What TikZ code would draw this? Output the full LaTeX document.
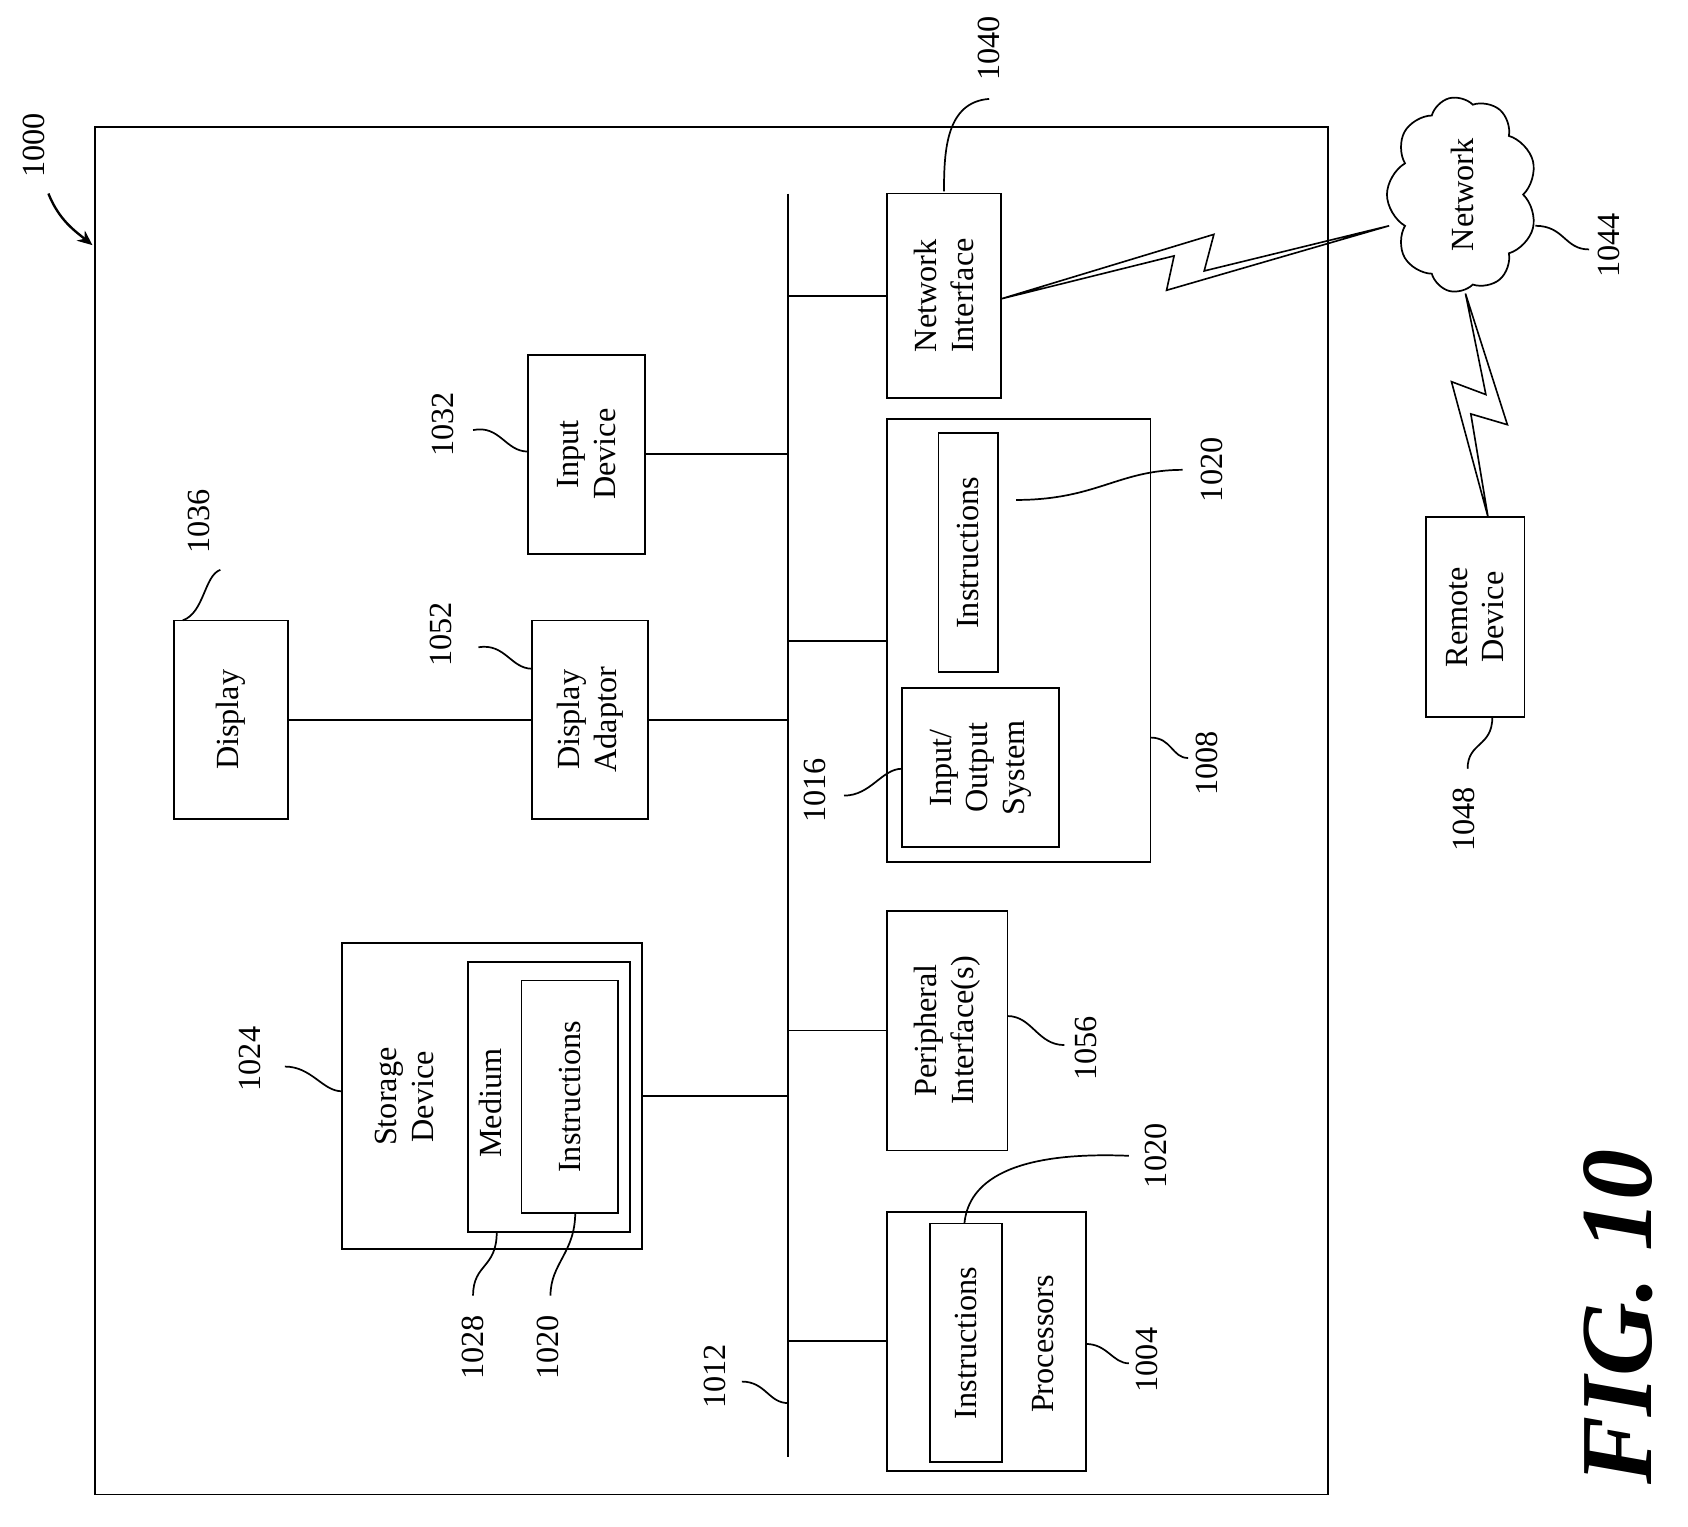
\documentclass[tikz,border=0pt]{standalone}
\usepackage{fontspec}
\setmainfont{Liberation Serif}
\usetikzlibrary{shapes.symbols,arrows.meta}
\begin{document}
\begin{tikzpicture}[x=1pt,y=-1pt,
  box/.style={draw,line width=1.6pt,rotate=90,align=center,inner sep=0pt,
     font=\fontsize{30}{34}\selectfont},
  txt/.style={rotate=90,align=center,inner sep=0pt,font=\fontsize{30}{34}\selectfont},
  lbl/.style={rotate=90,inner sep=0pt,font=\fontsize{30}{34}\selectfont},
  ln/.style={line width=1.6pt},
  lead/.style={line width=1.6pt}]
\useasboundingbox (0,0) rectangle (1570,1420);
\node[draw,line width=1.8pt,minimum width=1147,minimum height=1272,inner sep=0] (sys) at (661.5,754) {};
\coordinate (bt) at (733,180);
\coordinate (bb) at (733,1355);
\draw[ln] (bt) -- (bb);
% boxes
\node[box,minimum width=185,minimum height=106] (disp) at (215,669.5) {Display};
\node[box,minimum width=185,minimum height=108] (adapt) at (549,669.5) {Display\\Adaptor};
\node[box,minimum width=185,minimum height=109] (input) at (545.5,422.5) {Input\\Device};
\node[box,minimum width=285,minimum height=279] (stor) at (457.5,1019.5) {};
\node[txt] (stort) at (376,1020) {Storage\\Device};
\node[box,minimum width=251,minimum height=151] (med) at (510.5,1020.5) {};
\node[txt] (medt) at (456,1026) {Medium};
\node[box,minimum width=216,minimum height=90] (sinst) at (530,1020) {Instructions};
\node[box,minimum width=223,minimum height=112] (peri) at (881,958.5) {Peripheral\\Interface(s)};
\node[box,minimum width=241,minimum height=185] (proc) at (917.5,1247.5) {};
\node[box,minimum width=222,minimum height=67] (pinst) at (898.5,1249) {Instructions};
\node[txt] (proct) at (970,1250) {Processors};
\node[box,minimum width=190,minimum height=106] (ni) at (878,275) {Network\\Interface};
\node[box,minimum width=412,minimum height=245] (mem) at (947.5,596) {};
\node[box,minimum width=222,minimum height=55] (minst) at (900.5,514) {Instructions};
\node[box,minimum width=148,minimum height=146] (io) at (912,714) {Input/\\Output\\System};
\node[box,minimum width=186,minimum height=92] (rem) at (1372,574) {Remote\\Device};
\node[cloud,draw,line width=1.6pt,cloud puffs=9,cloud puff arc=120,aspect=1.3,
  minimum width=182,minimum height=140,rotate=90,inner sep=0pt,
  font=\fontsize{30}{34}\selectfont] (net) at (1360,181) {Network};
% connectors
\draw[ln] (disp.south) -- (disp.south -| adapt.north);
\draw[ln] (adapt.south) -- (adapt.south -| bt);
\draw[ln] (input.south) -- (input.south -| bt);
\draw[ln] (stor.south) -- (stor.south -| bt);
\draw[ln] (ni.north) -- (ni.north -| bt);
\draw[ln] (mem.north) -- (mem.north -| bt);
\draw[ln] (peri.north) -- (peri.north -| bt);
\draw[ln] (proc.north) -- (proc.north -| bt);
% lightning bolts
\coordinate (la) at (931,278);
\coordinate (lb) at (1292,210);
\draw[line width=1.5pt,line join=miter] (la) -- (1092,238) -- (1085,270) -- (lb) -- (1120,252) -- (1129,218) -- cycle;
\coordinate (lc) at (1363,273);
\coordinate (ld) at (1384,481);
\draw[line width=1.5pt,line join=miter] (lc) -- (1382,367) -- (1350,355) -- (ld) -- (1368,385) -- (1402,395) -- cycle;
% labels
\node[lbl] (l1000) at (32,135) {1000};
\draw[line width=2.2pt,-{Stealth[length=14pt,width=12pt]}] (45,180) .. controls (55,205) and (70,215) .. (86,228);
\node[lbl] (l1040) at (920,45) {1040};
\draw[lead] (920,92) .. controls (880,95) and (878,140) .. (878,178);
\node[lbl] (l1044) at (1496,228) {1044};
\draw[lead] (1428,210) .. controls (1455,210) and (1455,232) .. (1478,232);
\node[lbl] (l1032) at (412,395) {1032};
\draw[lead] (440,400) .. controls (465,395) and (470,420) .. (491,420);
\node[lbl] (l1036) at (185,485) {1036};
\draw[lead] (205,530) .. controls (190,535) and (190,570) .. (170,577);
\node[lbl] (l1052) at (410,590) {1052};
\draw[lead] (445,602) .. controls (470,598) and (475,622) .. (495,622);
\node[lbl] (l1020a) at (1127,437) {1020};
\draw[lead] (1100,437) .. controls (1040,437) and (1020,465) .. (945,465);
\node[lbl] (l1008) at (1123,710) {1008};
\draw[lead] (1070,686) .. controls (1090,686) and (1090,705) .. (1105,705);
\node[lbl] (l1016) at (758,735) {1016};
\draw[lead] (785,740) .. controls (810,740) and (820,715) .. (839,715);
\node[lbl] (l1024) at (232,985) {1024};
\draw[lead] (265,992) .. controls (290,992) and (300,1015) .. (318,1015);
\node[lbl] (l1056) at (1010,975) {1056};
\draw[lead] (937,945) .. controls (960,945) and (965,972) .. (990,972);
\node[lbl] (l1028) at (440,1253) {1028};
\draw[lead] (462,1146) .. controls (462,1180) and (440,1175) .. (440,1205);
\node[lbl] (l1020b) at (510,1253) {1020};
\draw[lead] (535,1128) .. controls (535,1165) and (512,1175) .. (512,1205);
\node[lbl] (l1012) at (665,1280) {1012};
\draw[lead] (690,1285) .. controls (712,1285) and (715,1305) .. (733,1305);
\node[lbl] (l1020c) at (1075,1075) {1020};
\draw[lead] (1050,1075) .. controls (930,1070) and (900,1105) .. (897,1138);
\node[lbl] (l1004) at (1067,1265) {1004};
\draw[lead] (1010,1250) .. controls (1030,1250) and (1035,1268) .. (1050,1268);
\node[lbl] (l1048) at (1362,762) {1048};
\draw[lead] (1388,667) .. controls (1388,695) and (1365,690) .. (1365,715);
\node[rotate=90,inner sep=0pt,font=\fontsize{95}{100}\selectfont\bfseries\itshape] (fig) at (1505,1225) {FIG. 10};
\end{tikzpicture}
\end{document}
